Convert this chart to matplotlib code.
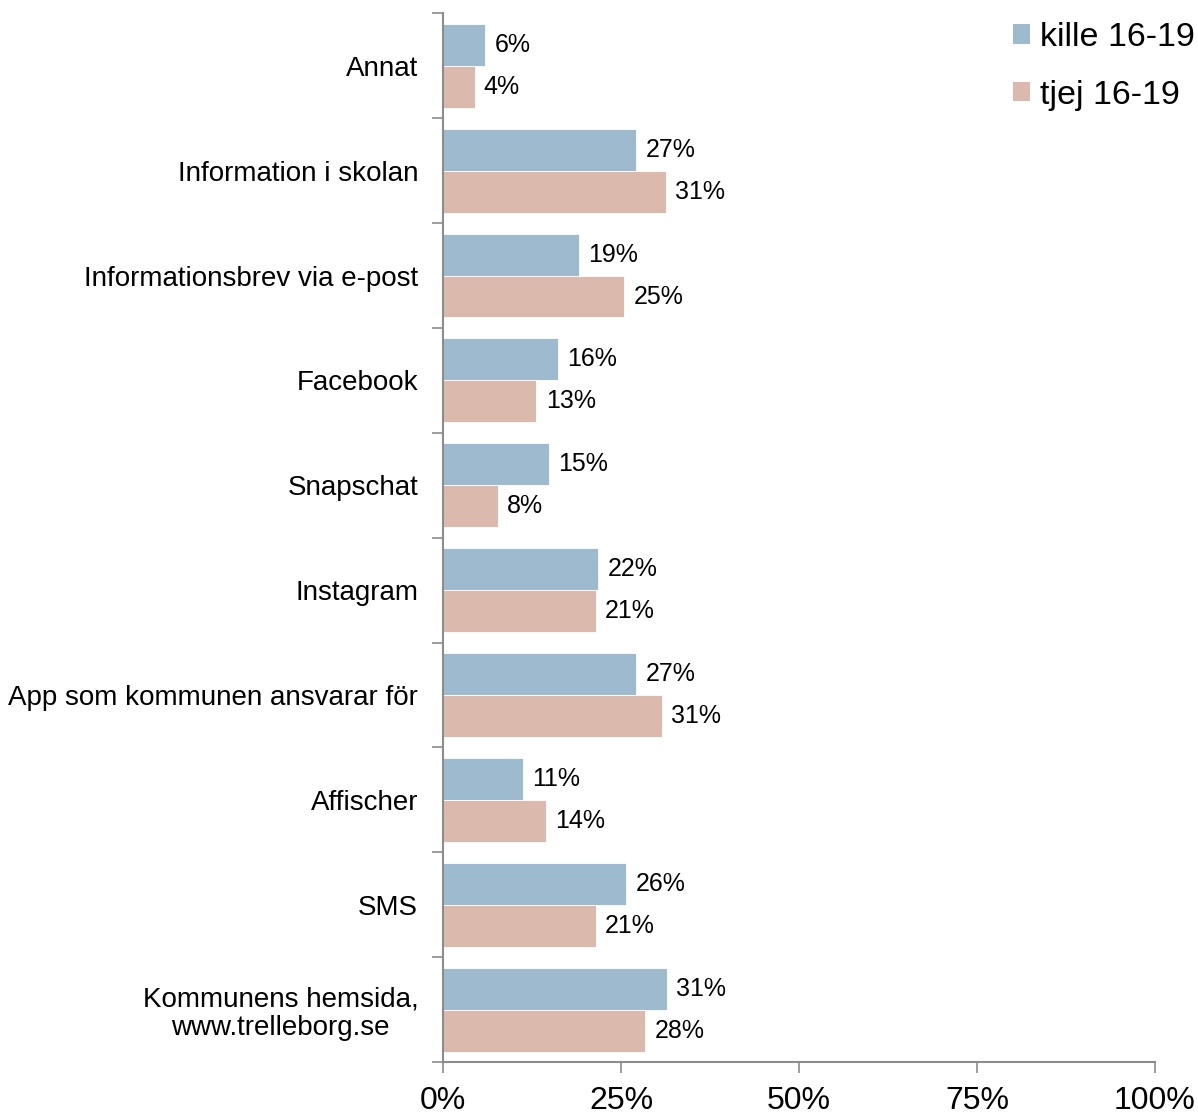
import matplotlib.pyplot as plt
import numpy as np
from matplotlib.patches import Patch

plt.rcParams['font.family'] = ['Liberation Sans', 'DejaVu Sans']

# data
categories = ["Annat", "Information i skolan", "Informationsbrev via e-post",
              "Facebook", "Snapschat", "Instagram", "App som kommunen ansvarar för",
              "Affischer", "SMS", "Kommunens hemsida,\nwww.trelleborg.se"]
kille = [5.9, 27.1, 19.1, 16.1, 14.8, 21.8, 27.1, 11.2, 25.7, 31.4]
tjej = [4.4, 31.3, 25.4, 13.1, 7.7, 21.4, 30.7, 14.4, 21.4, 28.4]
series_names = ["kille 16-19", "tjej 16-19"]
xticks = [0, 25, 50, 75, 100]

blue = "#9DBACE"
pink = "#DBBAAD"
gray = "#8C8C8C"

fig = plt.figure(figsize=(11.98, 11.15), dpi=100)
ax = fig.add_axes([0.370, 0.0475, 0.594, 0.9405])

y = np.arange(len(categories))
h = 0.4
ax.barh(y - h / 2, kille, height=h, color=blue, edgecolor="white", linewidth=0.6)
ax.barh(y + h / 2, tjej, height=h, color=pink, edgecolor="white", linewidth=0.6)

for i in range(len(categories)):
    ax.text(kille[i] + 1.3, y[i] - h / 2, "%d%%" % round(kille[i]),
            va="center", ha="left", fontsize=18)
    ax.text(tjej[i] + 1.3, y[i] + h / 2, "%d%%" % round(tjej[i]),
            va="center", ha="left", fontsize=18)

ax.set_ylim(len(categories) - 0.5, -0.5)
ax.set_xlim(0, 100)

ax.set_yticks(y)
ax.set_yticklabels(categories, fontsize=20, multialignment="center", linespacing=1.1)
ax.tick_params(axis="y", which="major", length=0, pad=18)
ax.set_yticks(np.arange(len(categories) + 1) - 0.5, minor=True)
ax.tick_params(axis="y", which="minor", length=8, width=1.2, color=gray)

ax.set_xticks(xticks)
ax.set_xticklabels(["%d%%" % t for t in xticks], fontsize=23)
ax.tick_params(axis="x", length=8, width=1.2, color=gray, pad=9)

for s in ["top", "right"]:
    ax.spines[s].set_visible(False)
for s in ["left", "bottom"]:
    ax.spines[s].set_color(gray)
    ax.spines[s].set_linewidth(1.5)

handles = [Patch(facecolor=blue), Patch(facecolor=pink)]
fig.legend(handles, series_names, loc="upper right", bbox_to_anchor=(1.023, 1.0075),
           frameon=False, fontsize=24.5, handlelength=0.5, handleheight=0.5,
           handletextpad=0.3, labelspacing=0.78)

fig.savefig("out.png", dpi=100)
